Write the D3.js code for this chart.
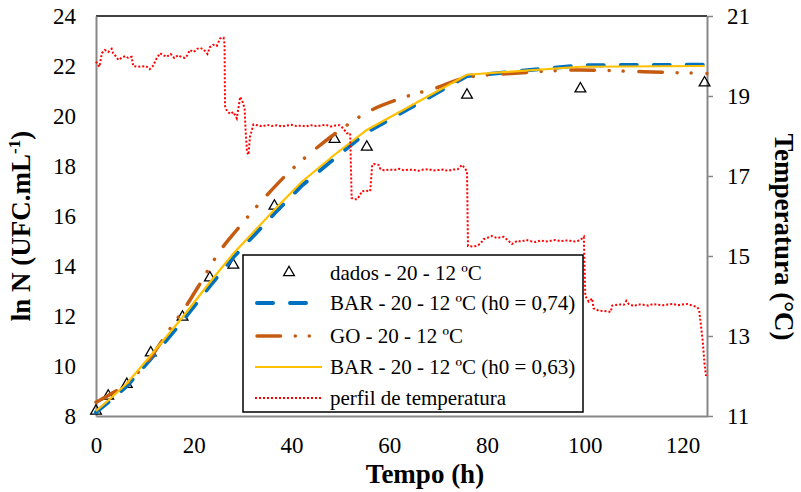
<!DOCTYPE html>
<meta charset="utf-8">
<head>
  <title>ln N e perfil de temperatura</title>
  <script src="https://d3js.org/d3.v7.min.js"></script>
  <style>
    body { margin: 0; background: #fff; }
    svg { display: block; }
  </style>
</head>
<body>
<svg width="801" height="492" font-family="Liberation Serif"></svg>
<script>
// dados experimentais (ln N)
var tempoDados = [0, 2.5, 6.3, 11.2, 17.7, 23.3, 28.1, 36.5, 48.8, 55.4, 75.9, 99.1, 124.5];
var lnDados = [8.24, 8.84, 9.31, 10.57, 12.0, 13.57, 14.08, 16.44, 19.11, 18.8, 20.88, 21.13, 21.37];

// BAR h0 = 0,74
var tempoBar74 = [0, 2.5, 6.3, 11.2, 17.7, 23.3, 28.1, 36.5, 42, 48.8, 55.4, 75.9, 99.1, 124.5];
var lnBar74 = [8.15, 8.55, 9.2, 10.28, 11.8, 13.2, 14.35, 16.1, 17.2, 18.3, 19.35, 21.6, 22.03, 22.05];

// BAR h0 = 0,63
var tempoBar63 = [0, 2.5, 6.3, 11.2, 17.7, 23.3, 28.1, 36.5, 42, 48.8, 55.4, 75.9, 99.1, 124.5];
var lnBar63 = [8.2, 8.62, 9.3, 10.42, 11.95, 13.35, 14.5, 16.25, 17.35, 18.45, 19.44, 21.65, 21.97, 22.0];

// GO
var tempoGO = [0, 2.5, 6.3, 11.2, 15, 18.6, 21.3, 25, 28.8, 35, 40, 45, 50, 55.5, 62.3, 70, 76, 85, 99, 112, 125];
var lnGO = [8.55, 8.82, 9.3, 10.35, 11.45, 12.45, 13.3, 14.5, 15.44, 16.84, 17.85, 18.7, 19.45, 20.15, 20.7, 21.15, 21.55, 21.7, 21.84, 21.77, 21.7];

// perfil de temperatura (eixo secundario)
var tempoPerfil = [0, 0.7, 1.2, 1.8, 2.5, 3.2, 3.5, 4, 4.6, 5.3, 6, 6.6, 7.3, 7.6, 8.5, 9.5, 10.2, 11, 11.7, 12.4,
  13.1, 13.8, 14.5, 15.3, 16, 16.8, 17.5, 18.2, 18.6, 19.2, 20, 20.7, 21.3, 22, 22.8, 23.3, 24, 24.7, 25.4, 26.1,
  26.3, 26.4, 26.8, 27.5, 28.1, 28.8, 29.5, 30, 30.4, 30.6, 30.9, 31.2, 31.5, 31.9, 32.2,
  33, 34, 35, 36, 37, 38, 39, 40, 41, 42, 43, 44, 45, 46, 47, 48, 49, 49.8, 50.6, 51.3, 52,
  52.3, 52.8, 53.4, 53.9, 54.4, 55.2, 56.1, 56.5, 56.8, 57.8,
  58.2, 59, 60, 61, 62, 63, 64, 65, 66, 67, 68, 69, 70, 71, 72, 73, 74, 74.9, 75.9,
  76.1, 76.9, 77.7, 78.6, 79.3, 80, 81, 82, 83.4, 84.2, 85.1,
  86.2, 87, 88, 89, 90, 91, 92, 93, 94, 95, 96, 97, 98, 99, 99.8,
  100.1, 100.8, 101.5, 101.8, 102.9, 104.6, 105.3, 105.6,
  106, 107, 108, 108.5, 109, 110, 111, 112, 113, 114, 115, 116, 117, 118, 119, 120, 121, 122, 123, 123.4,
  124.1, 124.5, 124.8];
var tempPerfil = [19.86, 19.73, 20.07, 20.15, 20.1, 20.18, 20.07, 20.0, 19.9, 19.96, 20.0, 19.95, 19.98, 19.75, 19.73, 19.74, 19.75, 19.67, 19.76, 19.94,
  20.07, 20.02, 19.98, 20.05, 19.95, 20.02, 19.97, 19.95, 20.0, 20.15, 20.1, 20.18, 20.2, 20.17, 20.05, 20.22, 20.28, 20.25, 20.44, 20.46,
  20.3, 18.75, 18.62, 18.55, 18.6, 18.44, 18.98, 18.85, 18.68, 18.15, 17.6, 17.53, 17.98, 18.15, 18.29,
  18.27, 18.24, 18.28, 18.25, 18.27, 18.24, 18.26, 18.28, 18.25, 18.26, 18.24, 18.27, 18.25, 18.26, 18.28, 18.24, 18.26, 18.27, 18.19, 18.07, 18.07,
  16.45, 16.42, 16.42, 16.5, 16.62, 16.63, 16.62, 17.28, 17.3, 17.28,
  17.17, 17.14, 17.16, 17.15, 17.18, 17.14, 17.16, 17.15, 17.13, 17.16, 17.17, 17.14, 17.15, 17.16, 17.13, 17.16, 17.17, 17.28, 17.12,
  15.25, 15.24, 15.25, 15.3, 15.42, 15.45, 15.5, 15.45, 15.48, 15.4, 15.3,
  15.38, 15.36, 15.4, 15.37, 15.35, 15.39, 15.36, 15.38, 15.4, 15.37, 15.39, 15.38, 15.36, 15.39, 15.48,
  14.0, 13.86, 13.94, 13.69, 13.63, 13.62, 13.6, 13.76,
  13.77, 13.79, 13.78, 13.88, 13.8, 13.75, 13.79, 13.78, 13.76, 13.8, 13.78, 13.77, 13.79, 13.8, 13.77, 13.79, 13.8, 13.76, 13.72, 13.65,
  12.9, 12.3, 12.0];

var ticksTempo = [0, 20, 40, 60, 80, 100, 120];
var ticksLn = [8, 10, 12, 14, 16, 18, 20, 22, 24];
var ticksTemp = [11, 13, 15, 17, 19, 21];

var legendaTextos = ["dados - 20 - 12 ºC", "BAR - 20 - 12 ºC (h0 = 0,74)", "GO - 20 - 12 ºC",
  "BAR - 20 - 12 ºC (h0 = 0,63)", "perfil de temperatura"];

var fonte = "Liberation Serif";
var svg = d3.select("svg");
var x0 = 96, x1 = 707, y0 = 416, y1 = 16;

var x = d3.scaleLinear().domain([0, 125]).range([x0, x1]);
var y = d3.scaleLinear().domain([8, 24]).range([y0, y1]);
var y2 = d3.scaleLinear().domain([11, 21]).range([y0, y1]);

var cinza = "#878787";

// borda superior
svg.append("line")
  .attr("x1", x0).attr("x2", x1).attr("y1", y1).attr("y2", y1)
  .attr("stroke", "#000").attr("stroke-width", 1.5);

var eixoX = svg.append("g")
  .attr("transform", "translate(0," + y0 + ")")
  .call(d3.axisBottom(x).tickValues(ticksTempo).tickSize(0).tickPadding(21));
var eixoY = svg.append("g")
  .attr("transform", "translate(" + x0 + ",0)")
  .call(d3.axisLeft(y).tickValues(ticksLn).tickSize(0).tickPadding(20));
var eixoY2 = svg.append("g")
  .attr("transform", "translate(" + x1 + ",0)")
  .call(d3.axisRight(y2).tickValues(ticksTemp).tickSizeInner(6).tickSizeOuter(0).tickPadding(14));

[eixoX, eixoY, eixoY2].forEach(function(g) {
  g.attr("font-family", fonte).attr("font-size", 23);
  g.selectAll(".tick text").attr("fill", "#000");
  g.select(".domain").attr("stroke", cinza).attr("stroke-width", 2);
  g.selectAll(".tick line").attr("stroke", cinza).attr("stroke-width", 1.5);
});

function serie(tx, vy, escala) {
  return tx.map(function(t, i) { return [x(t), escala(vy[i])]; });
}

// dados (triangulos)
var tri = d3.symbol().type(d3.symbolTriangle).size(50);
svg.append("g").selectAll("path")
  .data(tempoDados.map(function(t, i) { return [t, lnDados[i]]; }))
  .enter().append("path")
  .attr("d", tri)
  .attr("transform", function(d) { return "translate(" + x(d[0]) + "," + (y(d[1]) + 1) + ")"; })
  .attr("fill", "none").attr("stroke", "#000").attr("stroke-width", 1.3);

var linha = d3.line();

svg.append("path").datum(serie(tempoBar74, lnBar74, y))
  .attr("d", linha).attr("fill", "none")
  .attr("stroke", "#0070C0").attr("stroke-width", 4)
  .attr("stroke-dasharray", "16,17").attr("stroke-linecap", "round");

svg.append("path").datum(serie(tempoGO, lnGO, y))
  .attr("d", d3.line().curve(d3.curveMonotoneX)).attr("fill", "none")
  .attr("stroke", "#C55A11").attr("stroke-width", 3.5)
  .attr("stroke-dasharray", "23.5,14.75,0.01,14,0.01,15.75").attr("stroke-linecap", "round");

svg.append("path").datum(serie(tempoBar63, lnBar63, y))
  .attr("d", linha).attr("fill", "none")
  .attr("stroke", "#FFC000").attr("stroke-width", 2.2);

svg.append("path").datum(serie(tempoPerfil, tempPerfil, y2))
  .attr("d", linha).attr("fill", "none")
  .attr("stroke", "#FF0000").attr("stroke-width", 2)
  .attr("stroke-dasharray", "2,2");

// legenda
var leg = svg.append("g").attr("font-family", fonte).attr("font-size", 21);
leg.append("rect")
  .attr("x", 243).attr("y", 255).attr("width", 340).attr("height", 157)
  .attr("fill", "#fff").attr("stroke", "#000").attr("stroke-width", 1.5);

var linhasY = [272.5, 303, 336, 367, 398];
leg.append("path").attr("d", tri)
  .attr("transform", "translate(289," + linhasY[0] + ")")
  .attr("fill", "none").attr("stroke", "#000").attr("stroke-width", 1.3);

var estilos = [
  null,
  { c: "#0070C0", w: 4, d: "16,17", cap: "round" },
  { c: "#C55A11", w: 3.5, d: "23.5,14.75,0.01,14,0.01,15.75", cap: "round" },
  { c: "#FFC000", w: 2.2, d: null, cap: "butt" },
  { c: "#FF0000", w: 2, d: "2,2", cap: "butt" }
];
estilos.forEach(function(e, i) {
  if (!e) return;
  leg.append("line")
    .attr("x1", i == 1 || i == 2 ? 257 : 255).attr("x2", 322)
    .attr("y1", linhasY[i]).attr("y2", linhasY[i])
    .attr("stroke", e.c).attr("stroke-width", e.w)
    .attr("stroke-dasharray", e.d).attr("stroke-linecap", e.cap);
});
leg.selectAll("text.item").data(legendaTextos).enter().append("text")
  .attr("class", "item")
  .attr("x", 330)
  .attr("y", function(d, i) { return linhasY[i] + 7; })
  .text(function(d) { return d; });

// titulos
var titulos = svg.append("g").attr("font-family", fonte).attr("font-size", 27).attr("font-weight", "bold");
titulos.append("text")
  .attr("x", 425).attr("y", 483).attr("text-anchor", "middle")
  .text("Tempo (h)");

var tY = titulos.append("text")
  .attr("transform", "translate(30,226) rotate(-90)")
  .attr("text-anchor", "middle");
tY.append("tspan").text("ln N (UFC.mL");
tY.append("tspan").attr("dy", -10).attr("font-size", 17).text("-1");
tY.append("tspan").attr("dy", 10).text(")");

titulos.append("text")
  .attr("transform", "translate(775,237) rotate(90)")
  .attr("text-anchor", "middle")
  .text("Temperatura (°C)");
</script>
</body>
